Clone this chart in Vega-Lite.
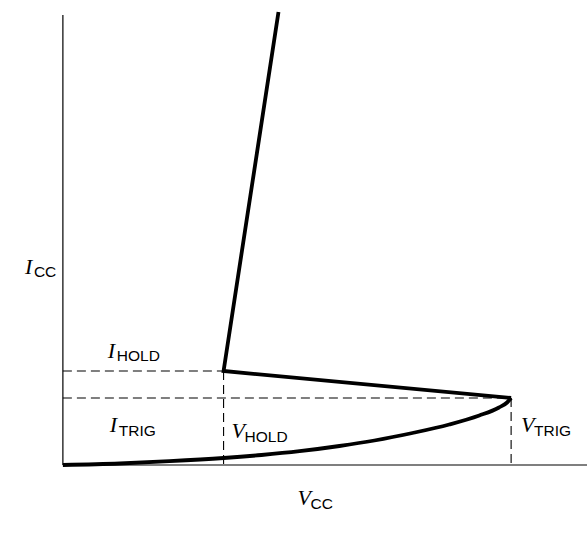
{
  "$schema": "https://vega.github.io/schema/vega-lite/v6.json",
  "width": 588,
  "height": 533,
  "padding": 0,
  "autosize": {"type": "fit", "contains": "padding"},
  "background": "white",
  "config": {"view": {"stroke": null}},
  "datasets": {
    "curve": [
      {"v": 0, "i": 0},
      {"v": 1.27, "i": 0.15},
      {"v": 2.38, "i": 0.38},
      {"v": 3.585, "i": 0.7},
      {"v": 4.43, "i": 1.0},
      {"v": 5.28, "i": 1.38},
      {"v": 6.17, "i": 1.9},
      {"v": 6.95, "i": 2.45},
      {"v": 7.8, "i": 3.2},
      {"v": 8.62, "i": 4.05},
      {"v": 9.29, "i": 4.95},
      {"v": 9.73, "i": 5.75},
      {"v": 9.91, "i": 6.25},
      {"v": 10, "i": 6.7}
    ],
    "branch": [
      {"v": 10, "i": 6.7, "k": 0},
      {"v": 3.585, "i": 9.4, "k": 1},
      {"v": 4.81, "i": 45.3, "k": 2}
    ],
    "dashes": [
      {"x1": 0, "y1": 9.4, "x2": 3.585, "y2": 9.4},
      {"x1": 0, "y1": 6.7, "x2": 10, "y2": 6.7},
      {"x1": 3.585, "y1": 9.4, "x2": 3.585, "y2": 0},
      {"x1": 10, "y1": 6.7, "x2": 10, "y2": 0}
    ],
    "axes": [
      {"x1": 0, "y1": 0, "x2": 0, "y2": 45.0},
      {"x1": 0, "y1": 0, "x2": 11.693, "y2": 0}
    ],
    "mainLetters": [
      {"t": "I", "v": -0.846, "i": 19.1},
      {"t": "I", "v": 1.002, "i": 10.7},
      {"t": "I", "v": 1.047, "i": 3.3},
      {"t": "V", "v": 3.764, "i": 2.7},
      {"t": "V", "v": 10.223, "i": 3.3},
      {"t": "V", "v": 5.234, "i": -4.0}
    ],
    "subs": [
      {"t": "CC", "v": -0.646, "i": 18.8},
      {"t": "HOLD", "v": 1.203, "i": 10.4},
      {"t": "TRIG", "v": 1.247, "i": 2.9},
      {"t": "HOLD", "v": 4.053, "i": 2.3},
      {"t": "TRIG", "v": 10.512, "i": 2.9},
      {"t": "CC", "v": 5.523, "i": -4.4}
    ]
  },
  "layer": [
    {
      "data": {"name": "axes"},
      "mark": {"type": "rule", "color": "black", "strokeWidth": 1.2},
      "encoding": {
        "x": {"field": "x1", "type": "quantitative", "scale": {"domain": [-1.403, 11.693], "nice": false, "zero": false}, "axis": null},
        "y": {"field": "y1", "type": "quantitative", "scale": {"domain": [-6.8, 46.5], "nice": false, "zero": false}, "axis": null},
        "x2": {"field": "x2"},
        "y2": {"field": "y2"}
      }
    },
    {
      "data": {"name": "dashes"},
      "mark": {"type": "rule", "color": "black", "strokeWidth": 1.1, "strokeDash": [9, 5]},
      "encoding": {
        "x": {"field": "x1", "type": "quantitative"},
        "y": {"field": "y1", "type": "quantitative"},
        "x2": {"field": "x2"},
        "y2": {"field": "y2"}
      }
    },
    {
      "data": {"name": "curve"},
      "mark": {"type": "line", "color": "black", "strokeWidth": 3.8, "interpolate": "monotone", "strokeCap": "butt"},
      "encoding": {
        "x": {"field": "v", "type": "quantitative"},
        "y": {"field": "i", "type": "quantitative"}
      }
    },
    {
      "data": {"name": "branch"},
      "mark": {"type": "line", "color": "black", "strokeWidth": 3.8, "interpolate": "linear", "strokeJoin": "miter", "strokeCap": "butt"},
      "encoding": {
        "x": {"field": "v", "type": "quantitative"},
        "y": {"field": "i", "type": "quantitative"},
        "order": {"field": "k", "type": "quantitative"}
      }
    },
    {
      "data": {"name": "mainLetters"},
      "mark": {"type": "text", "font": "Liberation Serif", "fontStyle": "italic", "fontSize": 22, "align": "left", "baseline": "alphabetic", "color": "black"},
      "encoding": {
        "x": {"field": "v", "type": "quantitative"},
        "y": {"field": "i", "type": "quantitative"},
        "text": {"field": "t"}
      }
    },
    {
      "data": {"name": "subs"},
      "mark": {"type": "text", "font": "Liberation Sans", "fontSize": 15.5, "align": "left", "baseline": "alphabetic", "color": "black"},
      "encoding": {
        "x": {"field": "v", "type": "quantitative"},
        "y": {"field": "i", "type": "quantitative"},
        "text": {"field": "t"}
      }
    }
  ]
}
